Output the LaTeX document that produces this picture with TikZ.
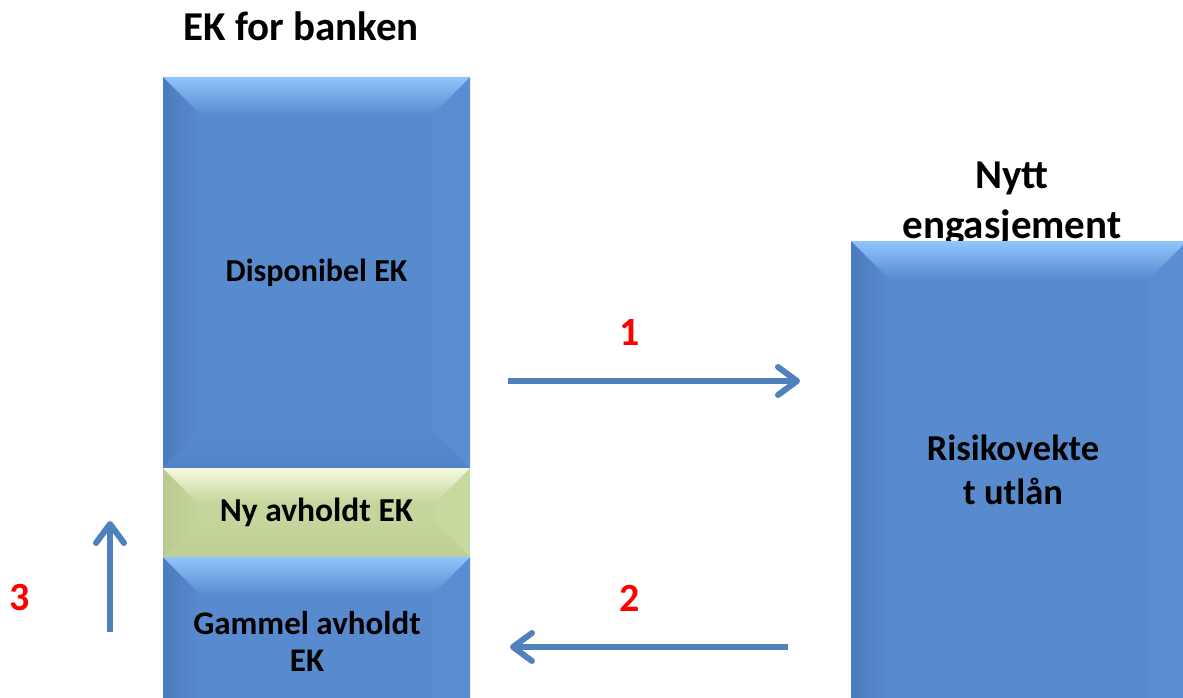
\documentclass[tikz,border=0pt]{standalone}
\usepackage{fontspec}
\setmainfont{Carlito}
\usepackage{tikz}
\usetikzlibrary{arrows.meta, positioning}

\definecolor{boxblue}{RGB}{88,138,206}
\definecolor{bluetop}{RGB}{142,198,252}
\definecolor{blueleft}{RGB}{76,124,192}
\definecolor{blueright}{RGB}{90,142,211}
\definecolor{bluebot}{RGB}{80,131,199}
\definecolor{boxgreen}{RGB}{196,214,155}
\definecolor{greentop}{RGB}{246,249,224}
\definecolor{greenleft}{RGB}{184,202,144}
\definecolor{greenright}{RGB}{200,217,160}
\definecolor{greenbot}{RGB}{188,207,148}
\definecolor{arrowblue}{RGB}{79,129,189}

\begin{document}
\begin{tikzpicture}[x=1pt, y=-1pt,
		bevel/.style n args={6}{path picture={
				\coordinate (pnw) at (path picture bounding box.north west);
				\coordinate (pne) at (path picture bounding box.north east);
				\coordinate (psw) at (path picture bounding box.south west);
				\coordinate (pse) at (path picture bounding box.south east);
				\shade[left color=#3, right color=#6] (pnw) -- ([shift={(#1pt,-#1pt)}]pnw) -- ([shift={(#1pt,#1pt)}]psw) -- (psw) -- cycle;
				\fill[#4] (pne) -- ([shift={(-#1pt,-#1pt)}]pne) -- ([shift={(-#1pt,#1pt)}]pse) -- (pse) -- cycle;
				\shade[top color=#2, bottom color=#6] (pnw) -- (pne) -- ([shift={(-#1pt,-#1pt)}]pne) -- ([shift={(#1pt,-#1pt)}]pnw) -- cycle;
				\shade[top color=#6, bottom color=#5] (psw) -- (pse) -- ([shift={(-#1pt,#1pt)}]pse) -- ([shift={(#1pt,#1pt)}]psw) -- cycle;
			}},
		box/.style={rectangle, inner sep=0pt, outer sep=0pt, align=center, font=\bfseries\fontsize{32}{37}\selectfont},
		bluebox/.style={box, fill=boxblue, bevel={38}{bluetop}{blueleft}{blueright}{bluebot}{boxblue}},
		greenbox/.style={box, fill=boxgreen, bevel={35}{greentop}{greenleft}{greenright}{greenbot}{boxgreen}},
		boxtext/.style={align=center, inner sep=0pt, font=\bfseries\fontsize{33}{37}\selectfont},
		headtext/.style={align=center, inner sep=0pt, font=\bfseries\fontsize{41}{50}\selectfont},
		numlabel/.style={text=red, inner sep=0pt, font=\bfseries\fontsize{40}{48}\selectfont},
		arrow/.style={line width=6pt, draw=arrowblue, -{Straight Barb[length=19pt, width=28pt, round]}}
		]
		\useasboundingbox (0,0) rectangle (1183,698);
		
		% Left column
		\node[headtext] (title) at (301,26) {EK for banken};
		\node[bluebox, minimum width=307pt, minimum height=391pt] (disp) at (316.5,272.5) {Disponibel EK};
		\node[greenbox, minimum width=307pt, minimum height=89pt, font=\bfseries\fontsize{33.5}{37}\selectfont] (ny) at (316.5,512.5) {Ny avholdt EK};
		\node[bluebox, minimum width=307pt, minimum height=190pt] (gam) at (316.5,652) {};
		\node[boxtext] (gamtext) at (307,641) {Gammel avholdt\\EK};
		
		% Right box
		\node[headtext] (nytt) at (1012,204) {Nytt\\engasjement};
		\node[bluebox, minimum width=336pt, minimum height=500pt] (risk) at (1019,491) {};
		\node[boxtext, font=\bfseries\fontsize{36.5}{44}\selectfont] (risktext) at (1013,470) {Risikovekte\\t utlån};
		
		% Arrows
		\coordinate (a1s) at (508,381);
		\coordinate (a1e) at (800,381);
		\coordinate (a2s) at (788,647);
		\coordinate (a2e) at (510,647);
		\coordinate (a3s) at (110,632);
		\coordinate (a3e) at (110,521);
		\draw[arrow] (a1s) -- (a1e);
		\draw[arrow] (a2s) -- (a2e);
		\draw[arrow] (a3s) -- (a3e);
		
		% Step numbers
		\node[numlabel] (n1) at (630,333) {1};
		\node[numlabel] (n2) at (630,598) {2};
		\node[numlabel] (n3) at (20,598) {3};
		
	\end{tikzpicture}
\end{document}
